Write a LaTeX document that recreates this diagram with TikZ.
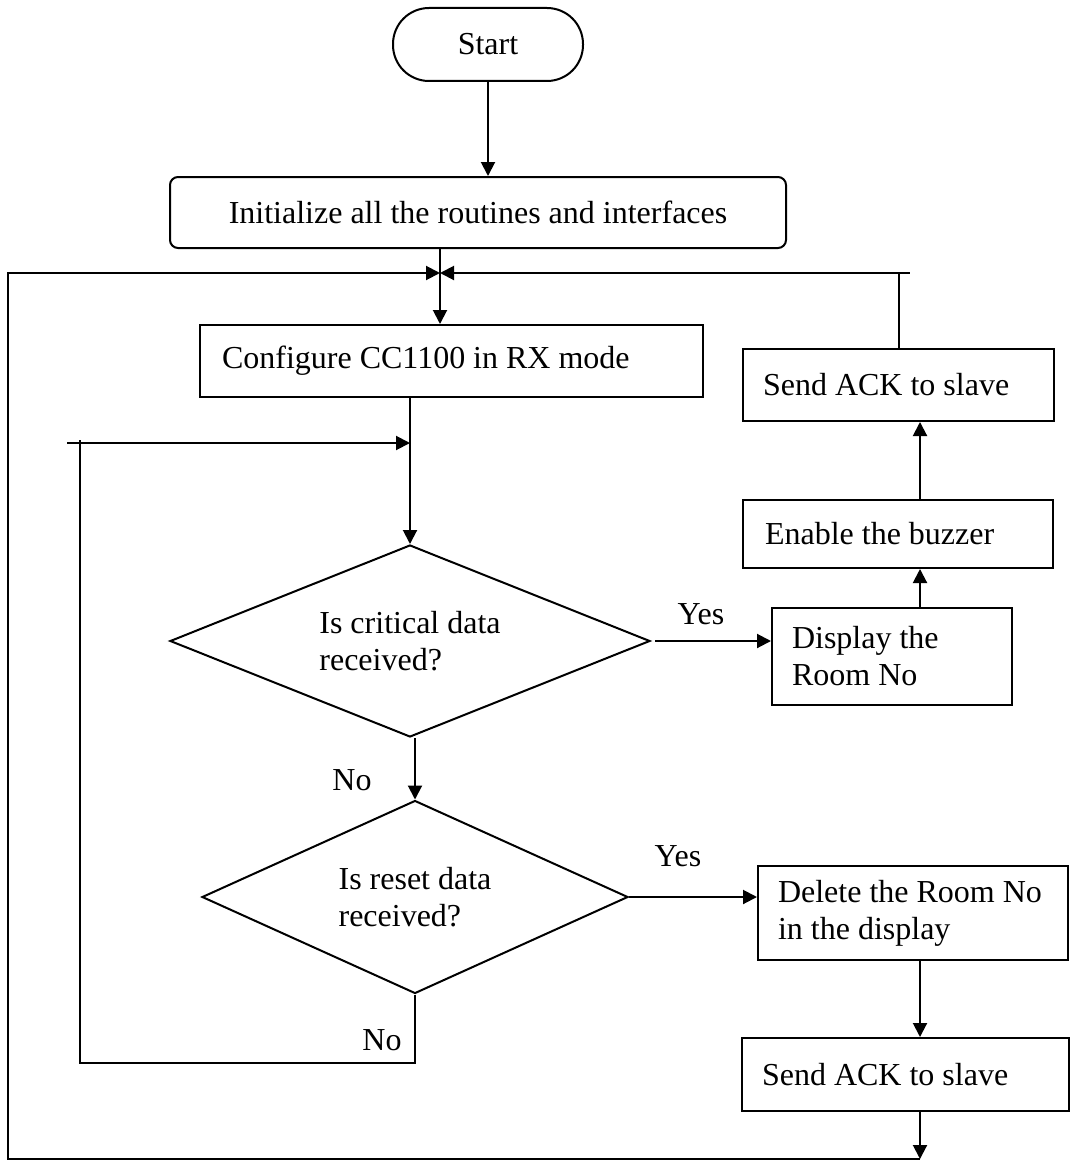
\documentclass[tikz,border=0pt]{standalone}
\usepackage{fontspec}
\setmainfont{Liberation Serif}
\usetikzlibrary{shapes.geometric,arrows.meta}

\tikzset{
    terminale/.style={
        draw, rectangle, rounded corners=18pt,
        minimum width=95pt, minimum height=36.5pt, inner sep=0pt
    }
}

\tikzset{
    iniz/.style={
        draw, rectangle, rounded corners=4pt,
        minimum width=308pt, minimum height=35.5pt, inner sep=0pt
    }
}

\tikzset{
    blocco/.style={
        draw, rectangle, align=flush left,
        inner xsep=10pt, inner ysep=0pt, minimum height=36pt
    }
}

\tikzset{
    decisione/.style={
        draw, diamond, shape aspect=2.5, align=flush left, inner sep=0pt
    }
}

\begin{document}
\begin{tikzpicture}[x=0.5pt, y=-0.5pt, line width=1pt,
    font=\fontsize{16}{18.5}\selectfont,
    >={Triangle[length=7pt,width=7pt]}]

\useasboundingbox (0,0) rectangle (1072,1161);

% blocchi
\node[terminale] (start) at (488,44.5) {Start};
\node[iniz] (init) at (478,212.5) {Initialize all the routines and interfaces};
\node[blocco, text width=229.5pt, inner xsep=11pt] (config) at (451.5,361) {Configure CC1100 in RX mode};

\node[decisione, minimum width=240pt, minimum height=96pt] (crit) at (410,641) {Is critical data\\received?};
\node[decisione, minimum width=213pt, minimum height=96.5pt] (reset) at (415,897) {Is reset data\\received?};

\node[blocco, text width=135.5pt] (ackup) at (898.5,385) {Send ACK to slave};
\node[blocco, text width=133pt, inner xsep=11pt, minimum height=34pt] (buzzer) at (898,534) {Enable the buzzer};
\node[blocco, text width=100pt, minimum height=48.5pt] (display) at (892,656.5) {Display the\\Room No};
\node[blocco, text width=135pt, minimum height=47pt] (delroom) at (913,913) {Delete the Room No\\in the display};
\node[blocco, text width=143.5pt, minimum height=36.5pt] (ackdown) at (905.5,1074.5) {Send ACK to slave};

% etichette
\node (si1) at (701,614) {Yes};
\node (no1) at (352,780) {No};
\node (si2) at (678,856) {Yes};
\node (no2) at (382,1040) {No};

% punti dei rami
\coordinate (merge) at (440,273);
\coordinate (stubr) at (910,273);
\coordinate (giu) at (920,1159);
\coordinate (sx) at (8,1159);
\coordinate (col) at (920,0);
\coordinate (loopin) at (67,443);
\coordinate (loopbl) at (80,1063);
\coordinate (looptl) at (80,440);

% frecce
\draw[->] (start.south) -- (start.south |- init.north);
\draw[->] (merge |- init.south) -- (merge |- config.north);
\draw[->] (crit.north |- config.south) -- (crit.north);
\draw[->] (reset.north |- crit.south) -- (reset.north);

\draw[->] ([xshift=2pt]crit.east) -- (crit.east -| display.west);
\draw[->] (col |- display.north) -- (col |- buzzer.south);
\draw[->] (col |- buzzer.north) -- (col |- ackup.south);
\draw (ackup.north) |- (stubr);
\draw[->] (ackup.north |- merge) -- (merge);

\draw[->] (reset.east) -- (delroom.west |- reset.east);
\draw[->] (col |- delroom.south) -- (col |- ackdown.north);
\draw[->] (col |- ackdown.south) -- (giu);
\draw[->] (giu) -- (sx) |- (merge);

% anello interno
\draw (reset.south) |- (loopbl) -- (looptl);
\draw[->] (loopin) -- (crit.north |- loopin);

\end{tikzpicture}
\end{document}
